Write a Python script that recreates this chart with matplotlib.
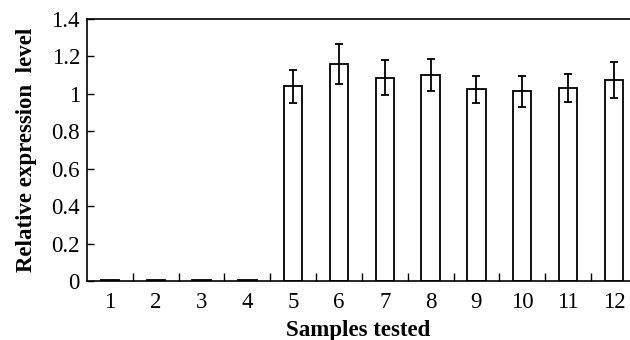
import matplotlib
matplotlib.use("Agg")
import matplotlib.pyplot as plt

samples = ['1', '2', '3', '4', '5', '6', '7', '8', '9', '10', '11', '12']
expression = [0.005, 0.005, 0.005, 0.005, 1.04, 1.16, 1.087, 1.10, 1.025, 1.015, 1.032, 1.075]
errors = [0, 0, 0, 0, 0.09, 0.105, 0.095, 0.086, 0.073, 0.083, 0.076, 0.095]

plt.rcParams['font.family'] = ['Liberation Serif', 'DejaVu Serif']

fig = plt.figure(figsize=(6.3, 3.4), dpi=100)
ax = fig.add_axes([0.138, 0.1735, 0.862, 0.7705])

x = list(range(1, len(samples) + 1))
ax.bar(x, expression, width=0.4, color='white', edgecolor='black', linewidth=1.3)
ax.errorbar(x[4:], expression[4:], yerr=errors[4:], fmt='none', ecolor='black',
            elinewidth=1.3, capsize=3, capthick=1.3)

ax.set_xlim(0.5, 12.35)
ax.set_ylim(0, 1.4)
ax.set_yticks([0, 0.2, 0.4, 0.6, 0.8, 1.0, 1.2, 1.4])
ax.set_yticklabels(['0', '0.2', '0.4', '0.6', '0.8', '1', '1.2', '1.4'], fontsize=16.5)
ax.set_xticks(x)
ax.set_xticklabels(samples, fontsize=16.5)
ax.tick_params(axis='x', length=0, pad=8)
ax.set_xticks([i + 0.5 for i in x[:-1]], minor=True)
ax.tick_params(axis='x', which='minor', direction='in', length=6, width=1)
ax.tick_params(axis='y', direction='in', length=5, width=1, pad=5)

ax.spines['right'].set_visible(False)
for s in ['left', 'top', 'bottom']:
    ax.spines[s].set_linewidth(1.2)

ax.set_xlabel('Samples tested', fontsize=16.5, fontweight='bold', labelpad=5)
ax.set_ylabel('Relative expression  level', fontsize=16.5, fontweight='bold', labelpad=10)

fig.savefig('out.png', dpi=100)
